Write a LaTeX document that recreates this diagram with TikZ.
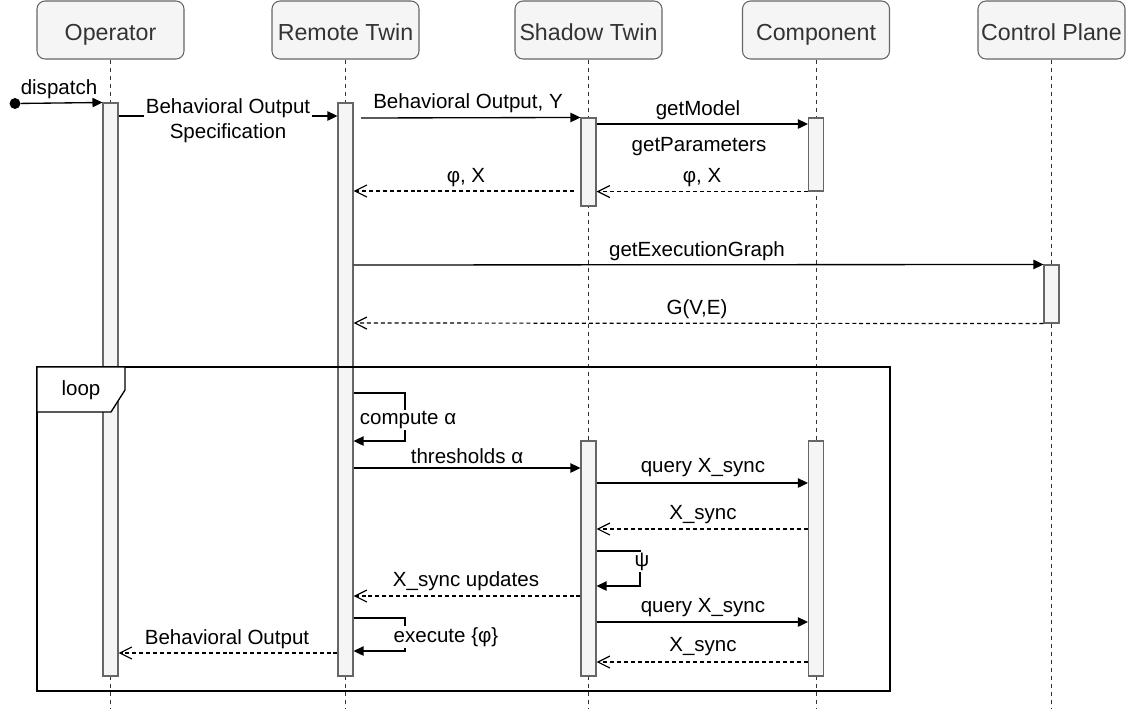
\documentclass[tikz,border=0pt]{standalone}
\usepackage{fontspec}
\setmainfont{Liberation Sans}
\usetikzlibrary{arrows.meta}
\definecolor{boxfill}{HTML}{F5F5F5}
\definecolor{boxline}{HTML}{666666}
\definecolor{txt}{HTML}{333333}
\begin{document}
\begin{tikzpicture}[x=0.75pt,y=-0.75pt,
  head/.style={draw=boxline, fill=boxfill, rounded corners=6pt, minimum width=110.25pt, minimum height=43.5pt, font=\fontsize{17.4}{20}\selectfont, text=txt, line width=0.8pt, inner sep=0pt, text height=15.5pt, text depth=0.5pt},
  life/.style={draw=txt, line width=0.7pt, dash pattern=on 3pt off 3pt},
  actbar/.style={draw=boxline, fill=boxfill, line width=0.8pt, minimum width=11.25pt, inner sep=0pt},
  sync/.style={draw=black, line width=1pt, -{Triangle[length=7.5pt,width=7pt]}},
  ret/.style={draw=black, line width=0.9pt, dash pattern=on 3pt off 2.2pt, -{Straight Barb[length=9pt,width=9pt]}},
  lbl/.style={font=\fontsize{15.4}{18.75}\selectfont, inner sep=1pt},
  wlbl/.style={lbl, fill=white},
  frame/.style={draw=black, line width=1pt}
]
\useasboundingbox (0,0) rectangle (1127,708);

% headers
\node[head] (op) at (110.5,30) {Operator};
\node[head] (rt) at (345.5,30) {Remote Twin};
\node[head] (st) at (588.5,30) {Shadow Twin};
\node[head] (cp) at (816,30) {Component};
\node[head] (cl) at (1051.5,30) {Control Plane};

% lifelines
\foreach \n in {op,rt,st,cp,cl} {
  \draw[life] (\n.south) -- (\n.south |- 0,708);
}

% activation bars
\node[actbar, minimum height=429.75pt] (opbar) at (110.5,389.5) {};
\node[actbar, minimum height=429.75pt] (rtbar) at (345.5,389.5) {};
\node[actbar, minimum height=66pt] (stbar1) at (588.5,162) {};
\node[actbar, minimum height=54.75pt] (cpbar1) at (816,154.5) {};
\node[actbar, minimum height=43.5pt] (clbar) at (1051.5,294) {};
\node[actbar, minimum height=176.25pt] (stbar2) at (588.5,558.5) {};
\node[actbar, minimum height=176.25pt] (cpbar2) at (816,558.5) {};

% dispatch
\node[circle, fill=black, inner sep=0pt, minimum size=8.2pt] (start) at (15,103.5) {};
\draw[sync] (start) -- (opbar.north west);
\node[lbl] (ldisp) at (59,89) {dispatch};

% Behavioral Output Specification
\draw[sync] (opbar.east |- 0,116) -- (rtbar.west |- 0,116);
\node[wlbl, align=center] (lbos) at (228,121) {Behavioral Output\\Specification};

% Behavioral Output, Y
\coordinate (m3s) at (361,118);
\draw[sync] (m3s) -- (stbar1.north west);
\node[lbl] (lboy) at (468,103) {Behavioral Output, Y};

% getModel
\draw[sync] (stbar1.east |- 0,124) -- (cpbar1.west |- 0,124);
\node[lbl] (lgm) at (698,110) {getModel};
\node[lbl] (lgp) at (699,147) {getParameters};

% phi, X returns
\draw[ret] (cpbar1.south west) -- (stbar1.east |- cpbar1.south);
\node[lbl] (lpx1) at (702,178) {φ, X};
\coordinate (m7s) at (574,191);
\draw[ret] (m7s) -- (rtbar.east |- 0,191);
\node[lbl] (lpx2) at (466,178) {φ, X};

% execution graph
\draw[sync] (rtbar.east |- 0,265) -- (clbar.north west);
\node[lbl] (leg) at (697,251) {getExecutionGraph};
\draw[ret] (clbar.south west) -- (rtbar.east |- 0,323);
\node[lbl] (lgve) at (697,309) {G(V,E)};

% loop frame
\node[frame, minimum width=639.75pt, minimum height=243pt, inner sep=0pt] (loopfr) at (463.5,529) {};
\draw[frame, fill=white] (37,367) -| (125,390) -- (111,412) -- (37,412) -- cycle;
\node[lbl] (lloop) at (81,390) {loop};

% compute alpha
\coordinate (ca1) at (405,393);
\coordinate (ca2) at (405,441);
\draw[sync] (rtbar.east |- ca1) -- (ca1) -- (ca2) -- (rtbar.east |- ca2);
\node[wlbl] (lca) at (408,420) {compute α};

% thresholds alpha
\draw[sync] (rtbar.east |- 0,468) -- (stbar2.west |- 0,468);
\node[lbl] (lta) at (467,456) {thresholds α};

% query X_sync
\draw[sync] (stbar2.east |- 0,483) -- (cpbar2.west |- 0,483);
\node[lbl] (lq1) at (703,468) {query X\_sync};
\draw[ret] (cpbar2.west |- 0,529) -- (stbar2.east |- 0,529);
\node[lbl] (lx1) at (703,515) {X\_sync};

% psi
\coordinate (ps1) at (640,551);
\coordinate (ps2) at (640,586);
\draw[sync] (stbar2.east |- ps1) -- (ps1) -- (ps2) -- (stbar2.east |- ps2);
\node[wlbl] (lpsi) at (642,562) {ψ};

% X_sync updates
\draw[ret] (stbar2.west |- 0,596) -- (rtbar.east |- 0,596);
\node[lbl] (lxu) at (466,581) {X\_sync updates};

% query X_sync 2
\draw[sync] (stbar2.east |- 0,622) -- (cpbar2.west |- 0,622);
\node[lbl] (lq2) at (703,608) {query X\_sync};

% execute phi
\coordinate (ex1) at (405,618);
\coordinate (ex2) at (405,651);
\draw[sync] (rtbar.east |- ex1) -- (ex1) -- (ex2) -- (rtbar.east |- ex2);
\node[wlbl] (lex) at (446,637) {execute \{φ\}};

% Behavioral Output return
\draw[ret] (rtbar.west |- 0,653) -- (opbar.east |- 0,653);
\node[lbl] (lbo) at (227,639) {Behavioral Output};

% X_sync return 2
\draw[ret] (cpbar2.west |- 0,662) -- (stbar2.east |- 0,662);
\node[lbl] (lx2) at (703,647) {X\_sync};
\end{tikzpicture}
\end{document}
